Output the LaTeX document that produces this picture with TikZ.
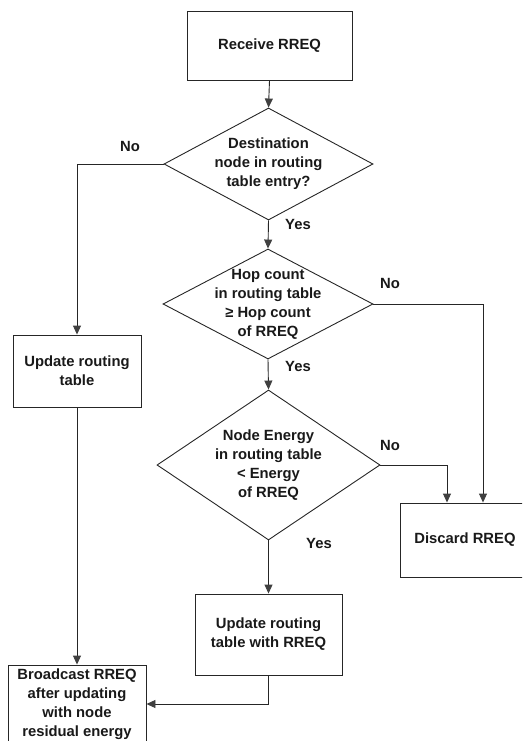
\documentclass[tikz,border=0pt]{standalone}
\usepackage{fontspec}
\setmainfont{Liberation Sans}
\usetikzlibrary{shapes.geometric,arrows.meta}

\tikzset{
  flow/.style={draw=black!85, line width=0.9pt},
  box/.style={flow, rectangle, inner sep=0pt, align=center},
  decision/.style={flow, diamond, inner sep=0pt},
  txt/.style={align=center, inner sep=0pt, font=\fontsize{14.8}{19}\selectfont\bfseries, text=black!90},
  lbl/.style={inner sep=0pt, font=\fontsize{14.8}{15}\selectfont\bfseries, text=black!90},
  arr/.style={flow, -{Triangle[width=8pt,length=9pt,fill=black!75,color=black!75]}},
}

\begin{document}
\begin{tikzpicture}[x=1pt, y=-1pt]
\useasboundingbox (0,0) rectangle (522,741);
\clip (0,0) rectangle (522,741);

% process boxes
\node[box, txt, minimum width=165pt, minimum height=69pt] (recv) at (269.5,45.5) {Receive RREQ};
\node[box, txt, minimum width=128pt, minimum height=72pt] (upd1) at (77,371) {Update routing\\table};
\node[box, txt, minimum width=130pt, minimum height=74pt] (disc) at (465,540) {Discard RREQ};
\node[box, txt, minimum width=147pt, minimum height=81pt] (upd2) at (268.5,634.5) {Update routing\\table with RREQ};
\node[box, txt, minimum width=138pt, minimum height=78pt] (bcast) at (77,704) {Broadcast RREQ\\after updating\\with node\\residual energy};

% decisions (outline and text kept apart so the text may reach the edges)
\node[decision, minimum width=209pt, minimum height=112pt] (d1) at (268.5,164) {};
\node[txt] (d1t) at (d1.center) {Destination\\node in routing\\table entry?};
\node[decision, minimum width=210pt, minimum height=110pt] (d2) at (268,304) {};
\node[txt] (d2t) at (d2.center) {Hop count\\in routing table\\≥ Hop count\\of RREQ};
\node[decision, minimum width=223pt, minimum height=150pt] (d3) at (268.5,465) {};
\node[txt] (d3t) at (d3.center) {Node Energy\\in routing table\\< Energy\\of RREQ};

% connectors
\draw[arr] (recv.south) -- (d1.north);
\draw[arr] (d1.west) -| (upd1.north);
\draw[arr] (d1.south) -- (d2.north);
\draw[arr] (d2.south) -- (d3.north);
\draw[arr] (d2.east) -| ([xshift=18pt]disc.north);
\draw[arr] (d3.east) -| ([xshift=-18pt]disc.north);
\draw[arr] (d3.south) -- (upd2.north);
\draw[arr] (upd1.south) -- (bcast.north);
\draw[arr] (upd2.south) |- (bcast.east);

% branch labels
\node[lbl] (l1) at (130,146) {No};
\node[lbl] (l2) at (298,224) {Yes};
\node[lbl] (l3) at (390,283) {No};
\node[lbl] (l4) at (298,366) {Yes};
\node[lbl] (l5) at (390,445) {No};
\node[lbl] (l6) at (319,543) {Yes};
\end{tikzpicture}
\end{document}
